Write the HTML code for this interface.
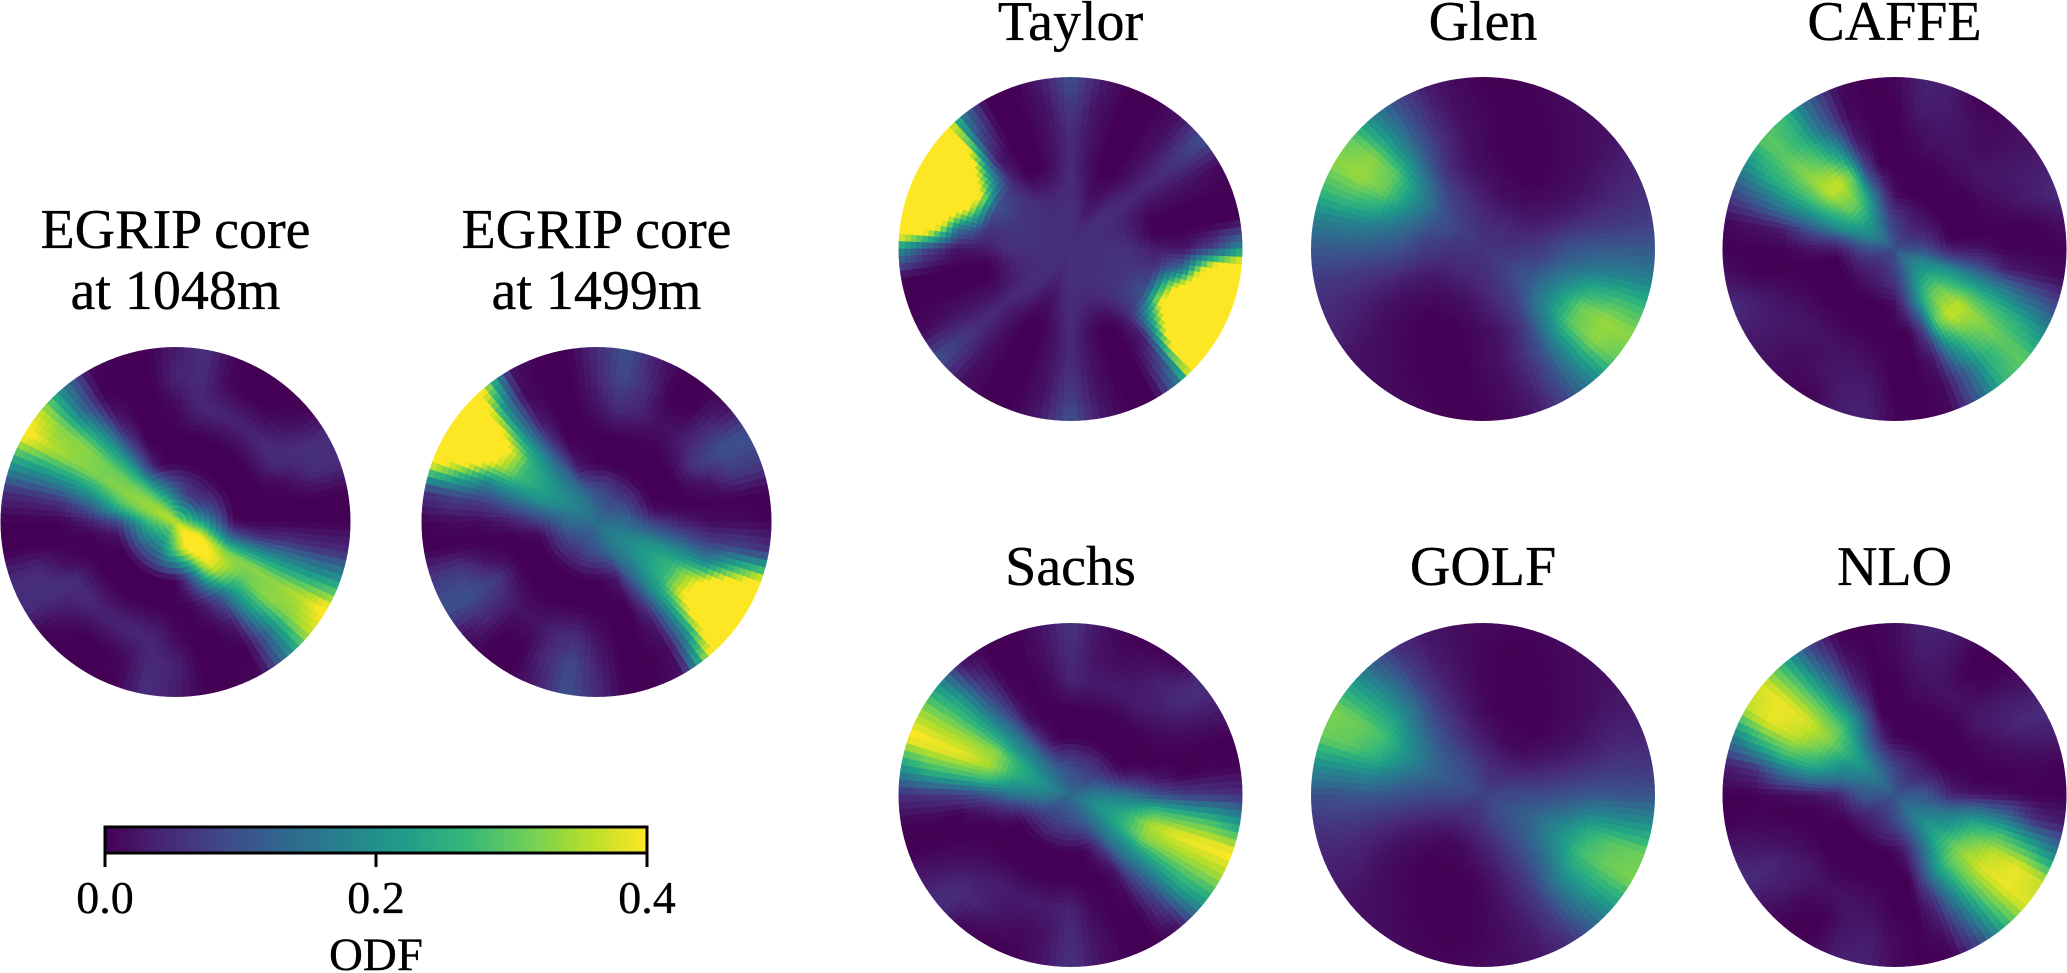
<!DOCTYPE html>
<html lang="en">
<head>
<meta charset="utf-8">
<title>ODF comparison</title>
<style>
html,body{margin:0;padding:0;background:#fff;width:2067px;height:973px;overflow:hidden}
svg{display:block}
text{font-family:"Liberation Serif",serif;fill:#000;text-anchor:middle;stroke:#000;stroke-width:.35px}
.title{font-size:56px}
.tick{font-size:46px}
.axis{font-size:47px}
</style>
</head>
<body>
<svg id="figure" xmlns="http://www.w3.org/2000/svg" width="2067" height="973" viewBox="0 0 2067 973">
  <rect width="2067" height="973" fill="#fff"/>
  <defs id="clips"></defs>
  <g id="discs"></g>

  <text class="title" x="175.5" y="248">EGRIP core</text>
  <text class="title" x="175.5" y="309">at 1048m</text>
  <text class="title" x="596.5" y="248">EGRIP core</text>
  <text class="title" x="596.5" y="309">at 1499m</text>
  <text class="title" x="1070.5" y="40">Taylor</text>
  <text class="title" x="1483" y="40">Glen</text>
  <text class="title" x="1894.5" y="40">CAFFE</text>
  <text class="title" x="1070.5" y="585">Sachs</text>
  <text class="title" x="1483" y="585">GOLF</text>
  <text class="title" x="1894.5" y="585">NLO</text>

  <g id="colorbar"></g>
  <text class="axis" x="376" y="970">ODF</text>
</svg>

<script>
// Viridis colormap anchors and colour-scale limits.
const viridisStops = ["#440154","#482878","#3e4a89","#31688e","#26828e","#1f9e89","#35b779","#6ece58","#b5de2b","#fde725"];
const odfMin = 0;
const odfMax = 0.4;
const colorbarTicks = [0, 0.2, 0.4];
const colorbarTickLabels = ["0.0", "0.2", "0.4"];

// ODF readings per disc. First row is the centre, then rings outward to the rim.
// 18-column rows hold azimuth 0..170 in 10 degree steps, repeated antipodally; 36-column rows hold 0..350.
const egrip1048Rings = [
 [.36],
 [.22,.17,.13,.1,.08,.07,.07,.08,.1,.13,.17,.22,.26,.3,.33,.34,.33,.3,.27,.24,.22,.2,.18,.18,.18,.22,.26,.3,.35,.39,.42,.44,.44,.4,.34,.28],
 [.01,0,0,0,0,0,0,0,0,0,0,.03,.12,.25,.31,.33,.3,.22,.09,.03,.01,0,0,0,0,0,0,0,.05,.15,.3,.38,.37,.32,.2,.08],
 [0,0,0,0,0,0,0,0,0,0,0,0,.08,.22,.31,.32,.23,.12,.03,0,0,0,0,0,0,0,0,0,0,.03,.1,.22,.3,.33,.2,.05],
 [0,0,.01,.05,.05,.04,.04,.045,.04,.01,0,0,.03,.2,.33,.33,.2,.06],
 [0,0,.05,.055,.02,0,0,.01,.05,.04,0,0,0,.14,.32,.36,.2,.05],
 [0,0,.05,.05,0,0,0,0,.055,.03,0,0,.01,.17,.36,.42,.22,.05]
];
const egrip1499Rings = [
 [.15],
 [.14,.13,.11,.1,.09,.08,.08,.09,.1,.1,.12,.14,.16,.17,.18,.18,.17,.15],
 [.07,.02,0,0,0,0,0,0,0,0,.01,.03,.12,.17,.21,.22,.2,.13],
 [.03,0,0,0,0,0,0,0,0,0,0,0,.07,.2,.26,.27,.2,.1],
 [.01,0,.02,.07,.04,.02,.02,.04,.05,.02,0,0,.03,.2,.42,.38,.18,.07],
 [.01,0,.07,.1,.05,0,0,.05,.09,.04,0,0,.01,.22,.6,.6,.3,.08],
 [0,0,.07,.1,.02,0,0,.03,.1,.05,0,0,.02,.38,.6,.6,.42,.06]
];
const taylorRings = [
 [.055],
 [.055,.055,.055,.055,.055,.05,.045,.04,.05,.055,.055,.055,.055,.055,.055,.055,.055,.055],
 [.055,.045,.04,.04,.05,.045,.02,.015,.035,.05,.045,.04,.045,.055,.06,.06,.06,.06],
 [.03,0,0,.02,.045,.02,0,0,.02,.05,.02,0,0,.04,.08,.1,.08,.05],
 [.02,0,0,.02,.05,.02,0,0,.02,.05,.02,0,0,.03,.3,.55,.42,.15],
 [.08,0,0,.02,.07,.02,0,0,.02,.07,.02,0,0,.1,.6,.7,.7,.55],
 [.2,0,0,.01,.1,.02,0,0,.03,.1,.03,0,0,.18,.7,.7,.7,.7]
];
const glenRings = [
 [.06],
 [.06,.055,.05,.05,.05,.05,.045,.045,.05,.05,.055,.06,.065,.07,.075,.075,.07,.065],
 [.07,.055,.04,.025,.02,.015,.015,.015,.02,.03,.04,.06,.07,.09,.11,.11,.1,.08],
 [.1,.07,.035,.02,.01,0,0,0,.005,.01,.02,.04,.08,.15,.2,.2,.17,.13],
 [.11,.07,.04,.02,.01,.005,0,0,0,.01,.02,.05,.1,.2,.3,.31,.24,.16],
 [.11,.07,.045,.03,.015,.01,.005,0,0,.005,.015,.04,.1,.2,.33,.34,.27,.17],
 [.11,.07,.05,.04,.02,.015,.01,.005,0,0,.01,.03,.09,.18,.3,.33,.27,.17]
];
const caffeRings = [
 [.1],
 [.1,.08,.06,.05,.04,.04,.04,.05,.06,.07,.09,.12,.15,.18,.19,.19,.17,.13],
 [.03,0,0,0,0,0,0,0,0,.01,.06,.15,.25,.3,.3,.25,.2,.09],
 [.02,0,0,0,0,.005,0,0,0,0,0,.08,.3,.37,.36,.28,.18,.08],
 [0,0,.01,.02,.025,.02,.02,.02,.01,0,0,.03,.2,.29,.33,.27,.17,.03],
 [0,0,.03,.03,.02,.01,.02,.03,.03,0,0,.01,.12,.25,.3,.25,.13,.02],
 [0,.02,.05,.03,.02,.01,0,.03,.04,.005,0,.01,.12,.27,.3,.2,.09,.01]
];
const sachsRings = [
 [.14],
 [.17,.15,.12,.1,.08,.08,.08,.08,.08,.09,.1,.11,.13,.15,.17,.19,.2,.19],
 [.16,.08,.03,0,0,0,0,0,0,0,0,.02,.07,.15,.2,.25,.25,.21],
 [.1,.03,0,0,0,0,0,0,0,0,0,0,.02,.13,.22,.33,.35,.27],
 [.07,0,0,.01,.02,.03,.03,.03,.03,.04,.01,0,.01,.1,.22,.33,.39,.27],
 [.06,.005,0,.02,.05,.04,.02,.01,.02,.05,.02,0,0,.07,.23,.33,.4,.27],
 [.05,0,0,.03,.055,.005,0,0,.02,.06,.02,0,0,.02,.2,.33,.41,.22]
];
const golfRings = [
 [.08],
 [.09,.08,.07,.06,.05,.05,.05,.05,.05,.06,.07,.08,.09,.09,.1,.1,.1,.09],
 [.09,.07,.05,.03,.02,.01,.01,.01,.02,.03,.04,.06,.08,.1,.12,.13,.13,.11],
 [.1,.07,.04,.02,.01,0,0,0,0,.01,.025,.05,.08,.12,.17,.2,.19,.14],
 [.11,.07,.04,.02,.01,.005,0,0,0,.005,.02,.04,.08,.16,.23,.28,.26,.19],
 [.1,.07,.045,.03,.015,.01,.005,0,0,.005,.015,.03,.07,.15,.24,.31,.3,.19],
 [.1,.06,.04,.03,.02,.015,.01,.005,.005,.01,.015,.025,.05,.12,.22,.32,.31,.2]
];
const nloRings = [
 [.11],
 [.12,.1,.08,.06,.05,.05,.05,.06,.07,.08,.1,.12,.14,.16,.17,.16,.14,.12],
 [.04,.02,.01,0,0,0,0,0,0,.005,.03,.08,.15,.22,.24,.2,.17,.11],
 [.02,0,0,0,0,0,0,0,0,0,0,.1,.22,.3,.33,.3,.25,.15],
 [.01,0,.01,.02,.03,.02,.02,.02,.015,0,0,.05,.18,.3,.38,.36,.28,.13],
 [0,.005,.02,.045,.03,.005,0,.025,.03,.01,0,.02,.13,.28,.39,.39,.24,.05],
 [0,0,.03,.05,.02,0,0,.03,.04,.01,0,0,.08,.25,.38,.36,.17,.03]
];

const SVG_NS = "http://www.w3.org/2000/svg";
const SECTORS = 144;
const RADIAL = 30;

function hexToRgb(h){
  return [parseInt(h.slice(1,3),16),parseInt(h.slice(3,5),16),parseInt(h.slice(5,7),16)];
}
const viridisRgb = viridisStops.map(hexToRgb);

function colorScale(v){
  let t = (v - odfMin) / (odfMax - odfMin);
  t = Math.max(0, Math.min(1, t));
  const p = t * (viridisRgb.length - 1);
  const i = Math.min(viridisRgb.length - 2, Math.floor(p));
  const f = p - i;
  const a = viridisRgb[i], b = viridisRgb[i + 1];
  return "rgb(" + [0,1,2].map(function(k){ return Math.round(a[k] + (b[k] - a[k]) * f); }).join(",") + ")";
}

function rowValue(row, deg){
  if (row.length === 1) return row[0];
  const span = row.length === 36 ? 360 : 180;
  const d = ((deg % span) + span) % span;
  const p = d / span * row.length;
  const i = Math.floor(p) % row.length;
  const j = (i + 1) % row.length;
  const f = p - Math.floor(p);
  return row[i] + (row[j] - row[i]) * f;
}

function odfAt(rings, rho, deg){
  const p = Math.min(rho, 0.9999) * (rings.length - 1);
  const i = Math.floor(p);
  const f = p - i;
  const a = rowValue(rings[i], deg);
  const b = rowValue(rings[i + 1], deg);
  return a + (b - a) * f;
}

function drawDisc(rings, cx, cy, radius, name){
  const defs = document.getElementById("clips");
  const clip = document.createElementNS(SVG_NS, "clipPath");
  clip.setAttribute("id", "clip-" + name);
  const clipCircle = document.createElementNS(SVG_NS, "circle");
  clipCircle.setAttribute("cx", cx);
  clipCircle.setAttribute("cy", cy);
  clipCircle.setAttribute("r", radius);
  clip.appendChild(clipCircle);
  defs.appendChild(clip);

  const group = document.createElementNS(SVG_NS, "g");
  
  
  group.setAttribute("clip-path", "url(#clip-" + name + ")");

  const frag = document.createDocumentFragment();
  for (let ir = 0; ir < RADIAL; ir++){
    const r0 = ir / RADIAL, r1 = (ir + 1) / RADIAL;
    for (let it = 0; it < SECTORS; it++){
      const t0 = it / SECTORS * 360, t1 = (it + 1) / SECTORS * 360;
      const value = odfAt(rings, (r0 + r1) / 2, (t0 + t1) / 2);
      const a0 = t0 * Math.PI / 180, a1 = t1 * Math.PI / 180;
      const R0 = r0 * radius, R1 = r1 * radius + 1;
      const d = "M" + (cx + R0 * Math.cos(a0)).toFixed(1) + " " + (cy - R0 * Math.sin(a0)).toFixed(1)
        + "L" + (cx + R1 * Math.cos(a0)).toFixed(1) + " " + (cy - R1 * Math.sin(a0)).toFixed(1)
        + "L" + (cx + R1 * Math.cos(a1)).toFixed(1) + " " + (cy - R1 * Math.sin(a1)).toFixed(1)
        + "L" + (cx + R0 * Math.cos(a1)).toFixed(1) + " " + (cy - R0 * Math.sin(a1)).toFixed(1) + "Z";
      const cell = document.createElementNS(SVG_NS, "path");
      const color = colorScale(value);
      cell.setAttribute("d", d);
      cell.setAttribute("fill", color);
      cell.setAttribute("stroke", color);
      cell.setAttribute("stroke-width", "0.7");
      
      
      frag.appendChild(cell);
    }
  }
  group.appendChild(frag);
  document.getElementById("discs").appendChild(group);
}

drawDisc(egrip1048Rings, 175.5, 522, 175, "egrip-1048");
drawDisc(egrip1499Rings, 596.5, 522, 175, "egrip-1499");
drawDisc(taylorRings, 1070.5, 249, 172, "taylor");
drawDisc(glenRings, 1483, 249, 172, "glen");
drawDisc(caffeRings, 1894.5, 249, 172, "caffe");
drawDisc(sachsRings, 1070.5, 795, 172, "sachs");
drawDisc(golfRings, 1483, 795, 172, "golf");
drawDisc(nloRings, 1894.5, 795, 172, "nlo");

// Colorbar
const barLeft = 105, barRight = 647, barTop = 827, barBottom = 853, tickEnd = 867;
function barX(v){
  return barLeft + (v - odfMin) / (odfMax - odfMin) * (barRight - barLeft);
}
const bar = document.getElementById("colorbar");
const swatches = 136;
for (let i = 0; i < swatches; i++){
  const v = odfMin + (i + 0.5) / swatches * (odfMax - odfMin);
  const x0 = barX(odfMin + i / swatches * (odfMax - odfMin));
  const x1 = barX(odfMin + (i + 1) / swatches * (odfMax - odfMin));
  const swatch = document.createElementNS(SVG_NS, "rect");
  swatch.setAttribute("x", x0);
  swatch.setAttribute("y", barTop);
  swatch.setAttribute("width", x1 - x0 + 0.6);
  swatch.setAttribute("height", barBottom - barTop);
  swatch.setAttribute("fill", colorScale(v));
  
  
  bar.appendChild(swatch);
}
const frame = document.createElementNS(SVG_NS, "rect");
frame.setAttribute("x", barLeft);
frame.setAttribute("y", barTop);
frame.setAttribute("width", barRight - barLeft);
frame.setAttribute("height", barBottom - barTop);
frame.setAttribute("fill", "none");
frame.setAttribute("stroke", "#000");
frame.setAttribute("stroke-width", "3");


bar.appendChild(frame);

colorbarTicks.forEach(function(v, i){
  const tick = document.createElementNS(SVG_NS, "line");
  tick.setAttribute("x1", barX(v));
  tick.setAttribute("x2", barX(v));
  tick.setAttribute("y1", barBottom);
  tick.setAttribute("y2", tickEnd);
  tick.setAttribute("stroke", "#000");
  tick.setAttribute("stroke-width", "3");
  
  
  bar.appendChild(tick);
  const label = document.createElementNS(SVG_NS, "text");
  label.setAttribute("class", "tick");
  label.setAttribute("x", barX(v));
  label.setAttribute("y", 913);
  
  
  label.textContent = colorbarTickLabels[i];
  bar.appendChild(label);
});
</script>
</body>
</html>
